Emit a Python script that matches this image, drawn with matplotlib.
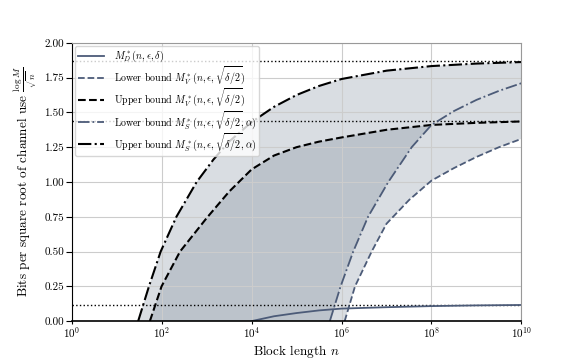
import numpy as np
import matplotlib
matplotlib.use('Agg')
import matplotlib.pyplot as plt

plt.rcParams['font.family'] = 'serif'
plt.rcParams['font.serif'] = ['cmr10']
plt.rcParams['mathtext.fontset'] = 'cm'
plt.rcParams['axes.formatter.use_mathtext'] = True

# curves: exponent of n (log10) and value
md_exp = [4.0, 4.5, 5.0, 5.5, 6.0, 7.0, 8.0, 9.0, 10.0]
md_val = [0.0, 0.035, 0.058, 0.077, 0.09, 0.10, 0.108, 0.113, 0.116]

lower_v_exp = [6.07, 6.30, 6.67, 7.0, 7.5, 8.0, 8.5, 9.0, 9.5, 10.0]
lower_v_val = [0.0, 0.25, 0.50, 0.70, 0.87, 1.01, 1.10, 1.18, 1.25, 1.31]

upper_v_exp = [1.74, 2.0, 2.41, 3.0, 3.5, 4.0, 4.5, 5.0, 5.5, 6.0, 7.0, 8.0, 9.0, 10.0]
upper_v_val = [0.0, 0.25, 0.50, 0.74, 0.93, 1.09, 1.19, 1.25, 1.29, 1.32, 1.375, 1.41, 1.425, 1.435]

lower_s_exp = [5.74, 5.98, 6.26, 6.59, 7.04, 7.56, 8.0, 8.5, 9.0, 9.5, 10.0]
lower_s_val = [0.0, 0.25, 0.50, 0.75, 1.00, 1.25, 1.41, 1.51, 1.59, 1.655, 1.71]

upper_s_exp = [1.48, 1.72, 1.98, 2.33, 2.78, 3.15, 3.5, 4.0, 4.5, 5.0, 5.5, 6.0, 7.0, 8.0, 9.0, 10.0]
upper_s_val = [0.0, 0.25, 0.50, 0.75, 1.00, 1.16, 1.29, 1.43, 1.54, 1.625, 1.69, 1.74, 1.80, 1.833, 1.851, 1.862]

# asymptotes (dotted)
limits = [1.873, 1.441, 0.118]

blue = '#4c5b78'
light = '#d9dde2'
dark = '#bcc3cb'


def to_n(exps):
    return 10.0 ** np.array(exps)


fig = plt.figure(figsize=(5.82, 3.6), dpi=100)
ax = fig.add_axes([0.123, 0.108, 0.773, 0.773])

# light band: upper S down to lower V
xs = np.concatenate([to_n(upper_s_exp), to_n(lower_v_exp)[::-1]])
ys = np.concatenate([upper_s_val, lower_v_val[::-1]])
ax.fill(xs, ys, color=light, lw=0, zorder=0.3)

# dark band: upper V down to lower S, up to where they cross
uv = np.array(upper_v_exp) <= 8.0
ls = np.array(lower_s_exp) <= 8.0
xs = np.concatenate([to_n(upper_v_exp)[uv], to_n(lower_s_exp)[ls][::-1]])
ys = np.concatenate([np.array(upper_v_val)[uv], np.array(lower_s_val)[ls][::-1]])
ax.fill(xs, ys, color=dark, lw=0, zorder=0.35)

for lim in limits:
    ax.axhline(lim, color='black', ls=':', lw=1.0, zorder=1.5)

ax.plot(to_n(md_exp), md_val, color=blue, lw=1.3, ls='-',
        label=r'$M_D^*(n,\epsilon,\delta)$')
ax.plot(to_n(lower_v_exp), lower_v_val, color=blue, lw=1.3, ls='--',
        label=r'Lower bound $M_V^*(n,\epsilon,\sqrt{\delta/2})$')
ax.plot(to_n(upper_v_exp), upper_v_val, color='black', lw=1.5, ls='--',
        label=r'Upper bound $M_V^*(n,\epsilon,\sqrt{\delta/2})$')
ax.plot(to_n(lower_s_exp), lower_s_val, color=blue, lw=1.3, ls='-.',
        label=r'Lower bound $M_S^*(n,\epsilon,\sqrt{\delta/2},\alpha)$')
ax.plot(to_n(upper_s_exp), upper_s_val, color='black', lw=1.5, ls='-.',
        label=r'Upper bound $M_S^*(n,\epsilon,\sqrt{\delta/2},\alpha)$')

ax.set_xscale('log')
ax.set_xlim(1, 1e10)
ax.set_ylim(0, 2.0)
ax.set_xticks([1e0, 1e2, 1e4, 1e6, 1e8, 1e10])
ax.minorticks_off()
ax.set_yticks(np.arange(0, 2.01, 0.25))
ax.yaxis.set_major_formatter(matplotlib.ticker.FormatStrFormatter('%.2f'))
ax.tick_params(axis='x', labelsize=8, length=2, width=0.8, pad=1)
ax.tick_params(axis='y', labelsize=8, length=4, width=0.8, pad=1.5)
ax.grid(True, color='#cccccc', lw=0.8)
ax.set_axisbelow(True)

for side in ['top', 'right']:
    ax.spines[side].set_color('#999999')
    ax.spines[side].set_linewidth(0.8)
ax.spines['bottom'].set_linewidth(1.2)
ax.spines['left'].set_linewidth(0.8)

ax.set_xlabel(r'Block length $n$', fontsize=9.5, labelpad=2)
ax.set_ylabel(r'Bits per square root of channel use $\frac{\log M}{\sqrt{n}}$',
              fontsize=9.5, labelpad=3)

ax.legend(loc='upper left', fontsize=7.2, borderaxespad=0.3, handlelength=2.6,
          handletextpad=1.0, labelspacing=0.02, borderpad=0.3)

fig.savefig('out.png', dpi=100)
